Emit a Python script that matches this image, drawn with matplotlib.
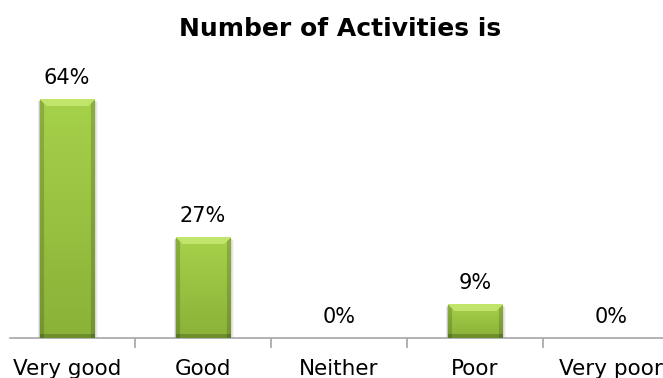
import matplotlib
matplotlib.use("Agg")
import matplotlib.pyplot as plt
import numpy as np
from matplotlib.colors import to_rgb

categories = ["Very good", "Good", "Neither", "Poor", "Very poor"]
percents = [64, 27, 0, 9, 0]
title_text = "Number of Activities is"

FIG_W, FIG_H = 663, 378


def bevel_image(w_px, h_px):
    # shaded face of one bar: light top bevel, darker sides and foot
    w_px = max(int(round(w_px)), 2)
    h_px = max(int(round(h_px)), 2)
    top = np.array(to_rgb("#a6d14a"))
    bottom = np.array(to_rgb("#8ab238"))
    t = np.linspace(0, 1, h_px)[:, None, None]
    img = top * (1 - t) + bottom * t
    img = np.repeat(img, w_px, axis=1)
    rows, cols = np.mgrid[0:h_px, 0:w_px]
    b = min(7, h_px // 3)
    light = np.array(to_rgb("#c6e872"))
    top_mask = (rows < b) & (cols >= rows) & (cols < w_px - rows)
    img[top_mask] = light * 0.85 + img[top_mask] * 0.15
    side = 4
    side_mask = ((cols < side) | (cols >= w_px - side)) & ~top_mask
    img[side_mask] *= 0.84
    foot_mask = rows >= h_px - 4
    img[foot_mask] *= 0.8
    return np.clip(img, 0, 1)


fig = plt.figure(figsize=(FIG_W / 100, FIG_H / 100), dpi=100)
ax = fig.add_axes([10 / FIG_W, 40 / FIG_H, 653 / FIG_W, 338 / FIG_H])

x = np.arange(len(categories))
ax.set_xlim(-0.419, 4.382)
ax.set_ylim(0, 90.6)
bar_w = 0.4

px_x = 653 / (4.382 + 0.419)   # pixels per x unit
px_y = 338 / 90.6              # pixels per percent
dx = 1 / px_x
dy = 1 / px_y

bars = ax.bar(x, percents, bar_w, color="#94bd3f", zorder=2)
for xi, v in zip(x, percents):
    if v <= 0:
        continue
    # soft drop shadow
    for k, a in [(4, 0.05), (3, 0.07), (2, 0.09), (1, 0.12)]:
        ax.add_patch(plt.Rectangle((xi - bar_w / 2 - k * dx * 0.5, -k * dy),
                                   bar_w + k * dx * 1.5, v + k * dy * 0.3,
                                   color="#404040", alpha=a, lw=0, zorder=1))
    img = bevel_image(bar_w * px_x, v * px_y)
    ax.imshow(img, extent=(xi - bar_w / 2, xi + bar_w / 2, 0, v),
              aspect="auto", origin="upper", zorder=3, interpolation="bilinear")

for xi, v in zip(x, percents):
    ax.annotate(f"{v}%", (xi, v), xytext=(0, 11), textcoords="offset pixels",
                ha="center", va="bottom", fontsize=15, color="#000000")

for s in ["top", "left", "right"]:
    ax.spines[s].set_visible(False)
ax.spines["bottom"].set_color("#a6a6a6")
ax.spines["bottom"].set_linewidth(1.2)
ax.set_yticks([])
ax.set_xticks(x)
ax.set_xticklabels(categories, fontsize=15.5)
ax.tick_params(axis="x", which="major", length=0, pad=15)
ax.set_xticks(x[:-1] + 0.5, minor=True)
ax.tick_params(axis="x", which="minor", length=7, color="#a6a6a6", width=1.2)

fig.text(340 / FIG_W, 1 - 29 / FIG_H, title_text, ha="center", va="center",
         fontsize=18, fontweight="bold")

fig.savefig("out.png", dpi=100)
